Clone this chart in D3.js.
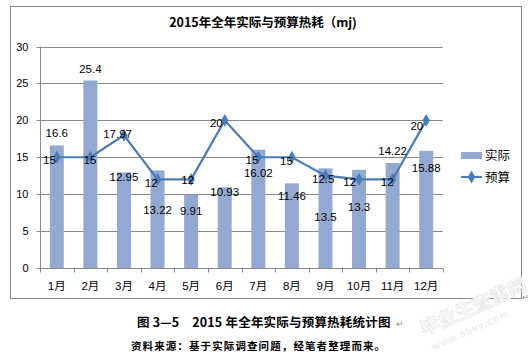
<!DOCTYPE html>
<html><head><meta charset="utf-8">
<script src="https://cdn.jsdelivr.net/npm/d3@7"></script>
<style>
body{margin:0;background:#fff;}
svg{display:block;}
text{font-family:"Liberation Sans",Arial,"Noto Sans CJK SC",sans-serif;}
</style></head><body>
<svg id="c" width="532" height="358"></svg>
<script>
const months = ["1月","2月","3月","4月","5月","6月","7月","8月","9月","10月","11月","12月"];
const actual = [16.6,25.4,12.95,13.22,9.91,10.93,16.02,11.46,13.5,13.3,14.22,15.88];
const budget = [15,15,17.97,12,12,20,15,15,12.5,12,12,20];
const yTicks = [0,5,10,15,20,25,30];
const seriesNames = ["实际","预算"];
const titleText = "2015年全年实际与预算热耗（mj)";
const captionText = "图 3—5　2015 年全年实际与预算热耗统计图";
const sourceText = "资料来源：基于实际调查问题，经笔者整理而来。";

// label placement tweaks (style only)
const barLabelDy = [-12,-11,5,40,16,5,23,13,49,37,-12,17];
const lineLabelDx = [-1,6,8,0,3,-2,0,1,9,-3,1,-3];
const lineLabelDy = [3,3,-1,4,1,3,3,4,3,3,3,6];

const svg = d3.select("#c");
const barColor = "#94A9D2", lineColor = "#4A7CB8", gridColor = "#888";

svg.append("rect").attr("x",10.5).attr("y",6.5).attr("width",511).attr("height",292)
  .attr("fill","none").attr("stroke","#888").attr("stroke-width",1);

const x = d3.scaleBand().domain(months).range([40,443]);
const y = d3.scaleLinear().domain([0,30]).range([268,46.5]);

// gridlines
svg.append("g").selectAll("line").data(yTicks.filter(d=>d>0)).join("line")
  .attr("x1",40).attr("x2",443).attr("y1",d=>Math.round(y(d))+0.5).attr("y2",d=>Math.round(y(d))+0.5)
  .attr("stroke",gridColor);

// y axis
const yAxis = d3.axisLeft(y).tickValues(yTicks).tickSize(4).tickPadding(8);
const gy = svg.append("g").attr("transform","translate(40.5,0)").call(yAxis);
gy.select(".domain").attr("stroke",gridColor).attr("d","M0,"+y(30)+"V"+y(0));
gy.selectAll(".tick line").attr("stroke",gridColor);
gy.selectAll(".tick").attr("transform",d=>"translate(0,"+(Math.round(y(d))+0.5)+")");
gy.selectAll("text").attr("font-size",11).attr("fill","#000").attr("font-family","Liberation Sans,Arial,sans-serif");

// bars
svg.append("g").selectAll("rect").data(actual).join("rect")
  .attr("x",(d,i)=>x(months[i])+x.bandwidth()/2-7)
  .attr("width",14)
  .attr("y",d=>y(d)).attr("height",d=>y(0)-y(d))
  .attr("fill",barColor);

// x axis
const gx = svg.append("g").attr("transform","translate(0,268.5)");
gx.append("line").attr("x1",40).attr("x2",443).attr("stroke",gridColor);
const bounds = months.map(m=>x(m)).concat([443]);
gx.selectAll("line.t").data(bounds).join("line").attr("class","t")
  .attr("x1",d=>Math.round(d)+0.5).attr("x2",d=>Math.round(d)+0.5).attr("y1",0).attr("y2",4).attr("stroke",gridColor);
gx.selectAll("text").data(months).join("text")
  .attr("x",d=>x(d)+x.bandwidth()/2).attr("y",21).attr("text-anchor","middle")
  .attr("font-size",11.5).style("font-family","'Liberation Sans','Noto Sans CJK SC',sans-serif").text(d=>d);

// line
const cx = i=>x(months[i])+x.bandwidth()/2;
svg.append("path").datum(budget)
  .attr("d",d3.line().x((d,i)=>cx(i)).y(d=>y(d)))
  .attr("fill","none").attr("stroke",lineColor).attr("stroke-width",2.2);
const diamond = d3.symbol().type(d3.symbolDiamond).size(48);
svg.append("g").selectAll("path").data(budget).join("path")
  .attr("d",diamond).attr("transform",(d,i)=>"translate("+cx(i)+","+y(d)+")").attr("fill",lineColor);

// bar labels
svg.append("g").selectAll("text").data(actual).join("text")
  .attr("x",(d,i)=>cx(i)).attr("y",(d,i)=>y(d)+barLabelDy[i]+4)
  .attr("text-anchor","middle").attr("font-size",11.5).attr("fill","#000").text(d=>d);

// line labels
svg.append("g").selectAll("text").data(budget).join("text")
  .attr("x",(d,i)=>cx(i)+lineLabelDx[i]).attr("y",(d,i)=>y(d)+lineLabelDy[i]+4)
  .attr("text-anchor","end").attr("font-size",11.5).attr("fill","#000").text(d=>d);

// title
svg.append("text").attr("x",263).attr("y",27).attr("text-anchor","middle")
  .attr("font-size",12.5).attr("font-weight","bold")
  .style("font-family","'Noto Sans CJK SC',sans-serif").text(titleText);

// legend
const lg = svg.append("g");
lg.append("rect").attr("x",461).attr("y",152).attr("width",21).attr("height",7).attr("fill",barColor);
lg.append("text").attr("x",485).attr("y",160).attr("font-size",12.5)
  .style("font-family","'Noto Sans CJK SC',sans-serif").text(seriesNames[0]);
lg.append("line").attr("x1",461).attr("x2",482).attr("y1",177).attr("y2",177).attr("stroke",lineColor).attr("stroke-width",2.2);
lg.append("path").attr("d",diamond).attr("transform","translate(471.5,177)").attr("fill",lineColor);
lg.append("text").attr("x",485).attr("y",182).attr("font-size",12.5)
  .style("font-family","'Noto Sans CJK SC',sans-serif").text(seriesNames[1]);

// caption
svg.append("text").attr("x",137).attr("y",327).attr("font-size",12.5).attr("font-weight","bold")
  .attr("letter-spacing",0.2)
  .style("font-family","'Noto Sans CJK SC',sans-serif").text(captionText);
svg.append("text").attr("x",396).attr("y",327).attr("font-size",9).attr("fill","#888").text("↵");
svg.append("text").attr("x",131).attr("y",350).attr("font-size",10.5).attr("font-weight","bold")
  .attr("letter-spacing",1.1)
  .style("font-family","'Noto Sans CJK SC',sans-serif").text(sourceText);
svg.append("text").attr("x",522).attr("y",300).attr("font-size",8).attr("fill","#888").text("↵");

// watermark
svg.append("text").attr("transform","translate(424,336) rotate(-24)").attr("font-size",19).attr("font-weight","bold")
  .attr("fill","#fafafa").attr("stroke","#e0e0e0").attr("stroke-width",0.5)
  .style("font-family","'Noto Sans CJK SC',sans-serif").text("毕业生查重网");
svg.append("text").attr("transform","translate(434,350) rotate(-24)").attr("font-size",10)
  .attr("fill","#e6e6e6").attr("letter-spacing",1.5).text("www.sbvv.com");
</script>
</body></html>
